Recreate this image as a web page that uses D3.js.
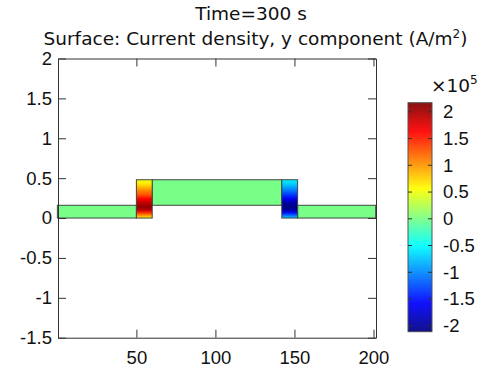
<!DOCTYPE html>
<html>
<head>
<meta charset="utf-8">
<script src="https://cdn.jsdelivr.net/npm/d3@7"></script>
<style>
  html, body { margin: 0; padding: 0; background: #fff; }
  svg { display: block; font-family: 'DejaVu Sans', sans-serif; }
  .axis text { fill: #111; font-size: 18.5px; }
  .axis path, .axis line { stroke: #333; }
</style>
</head>
<body>
<svg id="chart" width="482" height="370"></svg>
<script>
// Title
const titleLine1 = 'Time=300 s';
const titleLine2 = 'Surface: Current density, y component (A/m';

// Axes
const xDomain = [0.4, 201.6];
const yDomain = [-1.5, 2];
const xTicks = [50, 100, 150, 200];
const yTicks = [-1.5, -1, -0.5, 0, 0.5, 1, 1.5, 2];

// Color range (x10^5 A/m^2)
const colorDomain = [-2.11, 2.17];
const colorTicks = [-2, -1.5, -1, -0.5, 0, 0.5, 1, 1.5, 2];

// Geometry pieces with uniform value
const strips = [
  { name: 'leftStrip', x0: 0, x1: 50, y0: 0, y1: 0.16, value: 0 },
  { name: 'middle', x0: 60, x1: 142, y0: 0.16, y1: 0.48, value: 0 },
  { name: 'rightStrip', x0: 152, x1: 201.4, y0: 0, y1: 0.16, value: 0 },
];

// Electrode columns with vertical profile of Jy
const profileY = [0.48, 0.43, 0.35, 0.29, 0.24, 0.19, 0.14, 0.10, 0.063, 0.025, 0];
const leftValues = [0.5, 0.65, 1.05, 1.3, 1.65, 1.9, 2.1, 1.9, 1.4, 0.9, 0.65];
const rightValues = [-0.55, -0.7, -1.05, -1.35, -1.65, -1.95, -2.1, -1.95, -1.5, -1.0, -0.75];

const columns = [
  { name: 'leftCol', x0: 50, x1: 60, values: leftValues },
  { name: 'rightCol', x0: 142, x1: 152, values: rightValues },
];

const svg = d3.select('#chart');

const margin = { left: 58, top: 58.5, right: 106, bottom: 32.3 };
const W = 482, H = 370;
const plotW = W - margin.left - margin.right;
const plotH = H - margin.top - margin.bottom;

const x = d3.scaleLinear().domain(xDomain).range([0, plotW]);
const y = d3.scaleLinear().domain(yDomain).range([plotH, 0]);

const fmt = (d) => String(d);

// jet colormap
const jetPos = [0, 0.125, 0.375, 0.625, 0.875, 1];
const jetCol = ['#000080', '#0000ff', '#00ffff', '#ffff00', '#ff0000', '#800000'];
const color = d3
  .scaleLinear()
  .domain(jetPos.map((p) => colorDomain[0] + p * (colorDomain[1] - colorDomain[0])))
  .range(jetCol)
  .clamp(true);

const root = svg
  .append('g')
  .attr('transform', `translate(${margin.left},${margin.top})`);

const defs = svg.append('defs');

//
// Titles
//

svg
  .append('text')
  .attr('x', 251)
  .attr('y', 20)
  .attr('text-anchor', 'middle')
  .attr('font-size', 18.5)
  .attr('fill', '#111')
  .text(titleLine1);

const t2 = svg
  .append('text')
  .attr('x', 255.5)
  .attr('y', 45)
  .attr('text-anchor', 'middle')
  .attr('font-size', 18.5)
  .attr('fill', '#111');
t2.append('tspan').text(titleLine2);
t2.append('tspan').attr('font-size', 12).attr('dy', -7).text('2');
t2.append('tspan').attr('dy', 7).text(')');

//
// Geometry
//

root
  .selectAll('rect.piece')
  .data(strips)
  .join('rect')
  .attr('class', 'piece')
  .attr('x', (d) => x(d.x0))
  .attr('y', (d) => y(d.y1))
  .attr('width', (d) => x(d.x1) - x(d.x0))
  .attr('height', (d) => y(d.y0) - y(d.y1))
  .attr('fill', (d) => color(d.value))
  .attr('stroke', '#444')
  .attr('stroke-width', 1);

columns.forEach((c) => {
  const grad = defs
    .append('linearGradient')
    .attr('id', 'grad-' + c.name)
    .attr('gradientUnits', 'userSpaceOnUse')
    .attr('x1', 0)
    .attr('x2', 0)
    .attr('y1', y(profileY[0]))
    .attr('y2', y(profileY[profileY.length - 1]));

  const span = y(profileY[profileY.length - 1]) - y(profileY[0]);
  profileY.forEach((py, i) => {
    grad
      .append('stop')
      .attr('offset', (y(py) - y(profileY[0])) / span)
      .attr('stop-color', color(c.values[i]));
  });

  root
    .append('rect')
    .attr('x', x(c.x0))
    .attr('y', y(profileY[0]))
    .attr('width', x(c.x1) - x(c.x0))
    .attr('height', span)
    .attr('fill', `url(#grad-${c.name})`)
    .attr('stroke', '#444')
    .attr('stroke-width', 1);
});

//
// Axes (ticks inward on all four sides)
//

root
  .append('g')
  .attr('class', 'axis')
  .call(
    d3.axisLeft(y).tickValues(yTicks).tickFormat(fmt).tickSizeInner(-8).tickSizeOuter(0),
  )
  .call((g) => g.selectAll('.tick text').attr('x', -6));

root
  .append('g')
  .attr('class', 'axis')
  .attr('transform', `translate(0,${plotH})`)
  .call(
    d3.axisBottom(x).tickValues(xTicks).tickFormat(fmt).tickSizeInner(-8).tickSizeOuter(0),
  )
  .call((g) => g.selectAll('.tick text').attr('y', 13).attr('dy', '0.71em'));

root
  .append('g')
  .attr('class', 'axis')
  .call(
    d3.axisTop(x).tickValues(xTicks).tickSizeInner(-8).tickSizeOuter(0).tickFormat(() => ''),
  );

root
  .append('g')
  .attr('class', 'axis')
  .attr('transform', `translate(${plotW},0)`)
  .call(
    d3.axisRight(y).tickValues(yTicks).tickSizeInner(-8).tickSizeOuter(0).tickFormat(() => ''),
  );

//
// Colorbar
//

const cb = { x: 408, y: 102.7, w: 24, h: 229 };
const cy = d3.scaleLinear().domain(colorDomain).range([cb.y + cb.h, cb.y]);

const cbGroup = svg.append('g');
const steps = d3.range(0, cb.h, 1);
cbGroup
  .selectAll('rect.cell')
  .data(steps)
  .join('rect')
  .attr('class', 'cell')
  .attr('x', cb.x)
  .attr('y', (d) => cb.y + d)
  .attr('width', cb.w)
  .attr('height', 1.2)
  .attr('fill', (d) => color(cy.invert(cb.y + d + 0.5)));

cbGroup
  .append('rect')
  .attr('x', cb.x)
  .attr('y', cb.y)
  .attr('width', cb.w)
  .attr('height', cb.h)
  .attr('fill', 'none')
  .attr('stroke', '#555')
  .attr('stroke-width', 1);

cbGroup
  .selectAll('line.tl')
  .data(colorTicks)
  .join('line')
  .attr('class', 'tl')
  .attr('x1', cb.x)
  .attr('x2', cb.x + 4)
  .attr('y1', (d) => cy(d))
  .attr('y2', (d) => cy(d))
  .attr('stroke', '#333');

cbGroup
  .selectAll('line.tr')
  .data(colorTicks)
  .join('line')
  .attr('class', 'tr')
  .attr('x1', cb.x + cb.w - 4)
  .attr('x2', cb.x + cb.w)
  .attr('y1', (d) => cy(d))
  .attr('y2', (d) => cy(d))
  .attr('stroke', '#333');

cbGroup
  .append('g')
  .attr('class', 'axis')
  .attr('transform', `translate(${cb.x + cb.w},0)`)
  .call(d3.axisRight(cy).tickValues(colorTicks).tickFormat(fmt).tickSize(0).tickPadding(11))
  .call((g) => g.select('.domain').remove());

const exp = svg
  .append('text')
  .attr('x', 431)
  .attr('y', 92)
  .attr('font-size', 18.5)
  .attr('fill', '#111');
exp.append('tspan').text('×10');
exp.append('tspan').attr('font-size', 12).attr('dy', -8).text('5');
</script>
</body>
</html>
